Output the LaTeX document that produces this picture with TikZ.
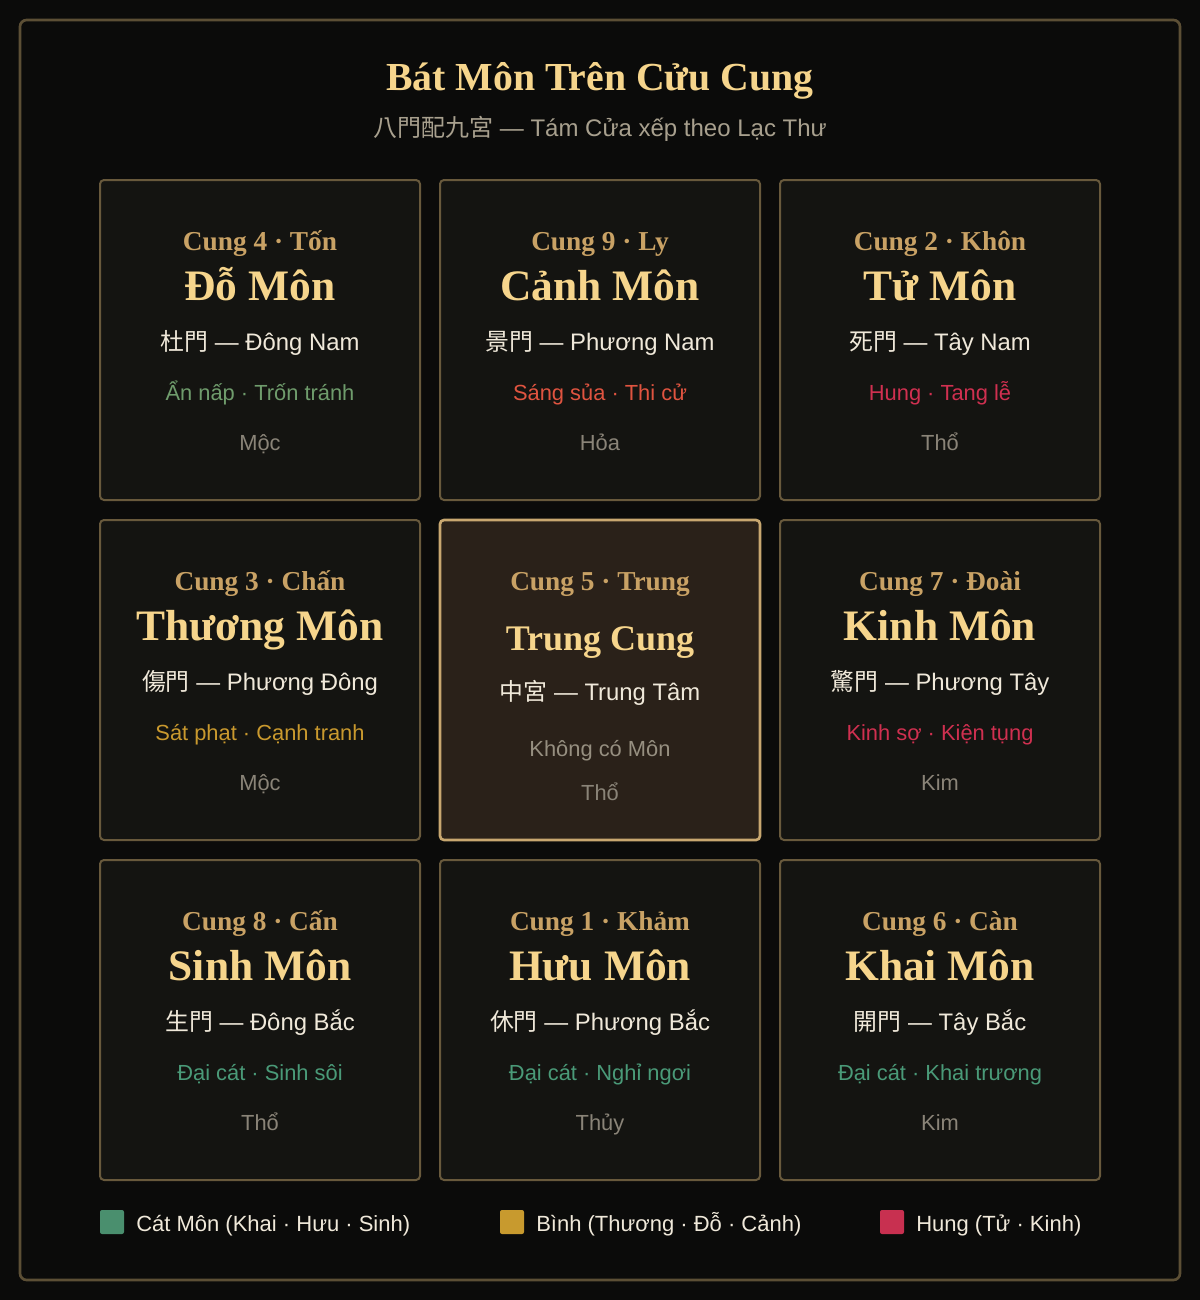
\documentclass[tikz,border=0pt]{standalone}
\usepackage{fontspec}
\setmainfont{Liberation Sans}
\newfontfamily\serifbold{Liberation Serif}
\newfontfamily\han{Noto Sans CJK TC}
\newcommand{\fsz}[1]{\fontsize{#1}{#1}\selectfont}
\definecolor{bg}{RGB}{11,11,10}
\definecolor{outerline}{RGB}{92,79,53}
\definecolor{cellfill}{RGB}{20,20,17}
\definecolor{cellline}{RGB}{104,89,60}
\definecolor{midfill}{RGB}{42,33,25}
\definecolor{midline}{RGB}{200,167,112}
\definecolor{goldhead}{RGB}{246,213,140}
\definecolor{goldsub}{RGB}{201,162,101}
\definecolor{ivory}{RGB}{240,233,218}
\definecolor{ash}{RGB}{138,132,120}
\definecolor{mist}{RGB}{150,143,128}
\definecolor{greyline}{RGB}{168,160,142}
\definecolor{moss}{RGB}{111,156,108}
\definecolor{jade}{RGB}{74,154,120}
\definecolor{ember}{RGB}{224,84,64}
\definecolor{crimson}{RGB}{208,48,80}
\definecolor{amber}{RGB}{201,153,46}
\definecolor{legjade}{RGB}{74,143,110}
\definecolor{legamber}{RGB}{200,154,46}
\definecolor{legcrimson}{RGB}{200,48,80}
\tikzset{
  palace/.style={draw=cellline, fill=cellfill, line width=1.5pt, rounded corners=3pt,
    minimum width=240pt, minimum height=240pt, inner sep=0pt},
  cungtxt/.style={anchor=base, inner sep=0pt, text=goldsub, font=\serifbold\bfseries\fsz{20.5}},
  doortxt/.style={anchor=base, inner sep=0pt, text=goldhead, font=\serifbold\bfseries\fsz{32.6}},
  dirtxt/.style={anchor=base, inner sep=0pt, text=ivory, font=\fsz{17.9}},
  attrtxt/.style={anchor=base, inner sep=0pt, font=\fsz{16.4}},
  elemtxt/.style={anchor=base, inner sep=0pt, text=ash, font=\fsz{16.4}},
  legsq/.style={fill=#1, rounded corners=1.5pt, minimum size=18pt, inner sep=0pt},
  legtxt/.style={anchor=base west, inner sep=0pt, text=ivory, font=\fsz{16.5}}
}
% one palace of the Lo Shu grid: name, centre x, top y, texts
\newcommand{\drawpalace}[9]{
  \node[palace] (#1) at (#2,#3+160) {};
  \node[cungtxt] (#1-cung) at (#2,#3+70) {#4};
  \node[doortxt] (#1-door) at (#2,#3+120) {#5};
  \node[dirtxt] (#1-dir) at (#2,#3+170) {#6};
  \node[attrtxt, text=#8] (#1-attr) at (#2,#3+220) {#7};
  \node[elemtxt] (#1-elem) at (#2,#3+270) {#9};
}
\newcommand{\legenditem}[4]{
  \node[legsq=#2] (#1) at (#3+12,1222) {};
  \node[legtxt] (#1-txt) at (#3+36,1231) {#4};
}
\begin{document}
\begin{tikzpicture}[x=0.75pt, y=-0.75pt]
\fill[bg] (0,0) rectangle (1200,1300);
\draw[outerline, line width=2pt, rounded corners=5pt] (20,20) rectangle (1180,1280);
\node[anchor=base, inner sep=0pt, text=goldhead, font=\serifbold\bfseries\fsz{29.8}] (title) at (600,90) {Bát Môn Trên Cửu Cung};
\node[anchor=base, inner sep=0pt, text=greyline, font=\fsz{18}] (subtitle) at (600,136) {{\han 八門配九宮} — Tám Cửa xếp theo Lạc Thư};
\drawpalace{c4}{260}{180}{Cung 4 · Tốn}{Đỗ Môn}{{\han 杜門} — Đông Nam}{Ẩn nấp · Trốn tránh}{moss}{Mộc}
\drawpalace{c9}{600}{180}{Cung 9 · Ly}{Cảnh Môn}{{\han 景門} — Phương Nam}{Sáng sủa · Thi cử}{ember}{Hỏa}
\drawpalace{c2}{940}{180}{Cung 2 · Khôn}{Tử Môn}{{\han 死門} — Tây Nam}{Hung · Tang lễ}{crimson}{Thổ}
\drawpalace{c3}{260}{520}{Cung 3 · Chấn}{Thương Môn}{{\han 傷門} — Phương Đông}{Sát phạt · Cạnh tranh}{amber}{Mộc}
\drawpalace{c7}{940}{520}{Cung 7 · Đoài}{Kinh Môn}{{\han 驚門} — Phương Tây}{Kinh sợ · Kiện tụng}{crimson}{Kim}
\drawpalace{c8}{260}{860}{Cung 8 · Cấn}{Sinh Môn}{{\han 生門} — Đông Bắc}{Đại cát · Sinh sôi}{jade}{Thổ}
\drawpalace{c1}{600}{860}{Cung 1 · Khảm}{Hưu Môn}{{\han 休門} — Phương Bắc}{Đại cát · Nghỉ ngơi}{jade}{Thủy}
\drawpalace{c6}{940}{860}{Cung 6 · Càn}{Khai Môn}{{\han 開門} — Tây Bắc}{Đại cát · Khai trương}{jade}{Kim}
% centre palace
\node[palace, draw=midline, fill=midfill, line width=2pt] (c5) at (600,680) {};
\node[cungtxt] (c5-cung) at (600,590) {Cung 5 · Trung};
\node[doortxt, font=\serifbold\bfseries\fsz{27}] (c5-door) at (600,650) {Trung Cung};
\node[dirtxt] (c5-dir) at (600,700) {{\han 中宮} — Trung Tâm};
\node[elemtxt, text=mist] (c5-none) at (600,756) {Không có Môn};
\node[elemtxt] (c5-elem) at (600,800) {Thổ};
% legend
\legenditem{lgcat}{legjade}{100}{Cát Môn (Khai · Hưu · Sinh)}
\legenditem{lgbinh}{legamber}{500}{Bình (Thương · Đỗ · Cảnh)}
\legenditem{lghung}{legcrimson}{880}{Hung (Tử · Kinh)}
\end{tikzpicture}
\end{document}
